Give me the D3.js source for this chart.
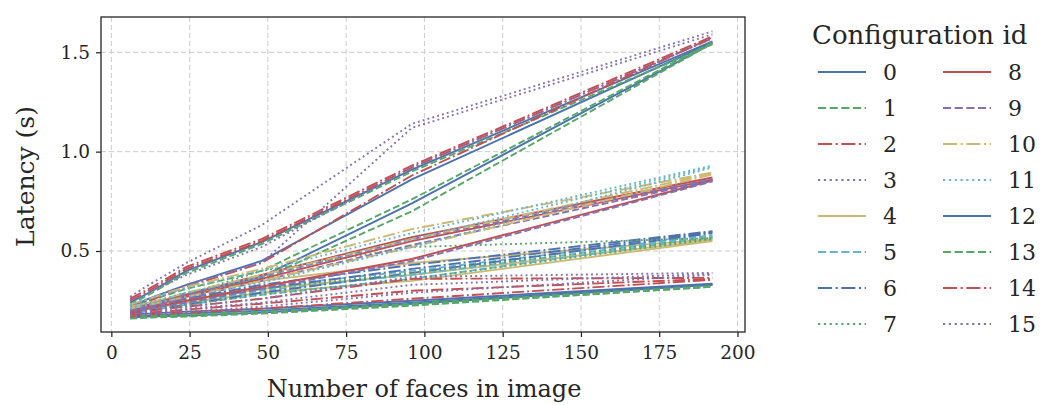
<!DOCTYPE html>
<html>
<head>
<meta charset="utf-8">
<script src="https://cdn.jsdelivr.net/npm/d3@7"></script>
<style>
  body { margin: 0; background: #fff; }
  text { font-family: "DejaVu Serif", serif; fill: #262626; }
</style>
</head>
<body>
<div id="chart"></div>
<script>
// Set up our chart size
var svgWidth = 1045;
var svgHeight = 405;

var margin = { top: 17, right: 300, bottom: 73, left: 101 };
var width = 745 - margin.left;
var height = 332 - margin.top;

// x values (number of faces)
var faces = [6, 12, 24, 48, 96, 192];

// latency (s) per run, three runs per configuration id
var cfg0 = [[0.24, 0.29, 0.40, 0.545, 0.91, 1.555], [0.20, 0.23, 0.28, 0.37, 0.74, 1.545], [0.22, 0.26, 0.33, 0.45, 0.86, 1.55]];
var cfg1 = [[0.23, 0.28, 0.39, 0.535, 0.90, 1.54], [0.21, 0.235, 0.29, 0.36, 0.70, 1.545], [0.22, 0.25, 0.31, 0.40, 0.76, 1.55]];
var cfg2 = [[0.26, 0.31, 0.42, 0.56, 0.93, 1.58], [0.22, 0.25, 0.32, 0.44, 0.88, 1.575], [0.25, 0.30, 0.41, 0.55, 0.92, 1.57]];
var cfg3 = [[0.27, 0.33, 0.44, 0.63, 1.14, 1.605], [0.22, 0.26, 0.33, 0.44, 1.12, 1.59], [0.25, 0.29, 0.38, 0.52, 0.92, 1.57]];
var cfg4 = [[0.19, 0.21, 0.24, 0.29, 0.35, 0.55], [0.20, 0.22, 0.25, 0.31, 0.38, 0.555], [0.21, 0.24, 0.28, 0.35, 0.44, 0.56]];
var cfg5 = [[0.19, 0.21, 0.24, 0.30, 0.38, 0.575], [0.20, 0.22, 0.26, 0.32, 0.40, 0.58], [0.18, 0.20, 0.23, 0.28, 0.36, 0.57]];
var cfg6 = [[0.20, 0.22, 0.26, 0.33, 0.43, 0.60], [0.19, 0.21, 0.25, 0.31, 0.41, 0.595], [0.18, 0.20, 0.23, 0.29, 0.39, 0.59]];
var cfg7 = [[0.20, 0.23, 0.28, 0.40, 0.52, 0.565], [0.18, 0.20, 0.23, 0.28, 0.36, 0.56], [0.19, 0.21, 0.25, 0.31, 0.39, 0.565]];
var cfg8 = [[0.20, 0.22, 0.27, 0.36, 0.55, 0.86], [0.19, 0.21, 0.25, 0.32, 0.46, 0.855], [0.21, 0.23, 0.28, 0.38, 0.57, 0.87]];
var cfg9 = [[0.20, 0.22, 0.26, 0.35, 0.53, 0.855], [0.19, 0.21, 0.24, 0.31, 0.45, 0.85], [0.21, 0.23, 0.28, 0.37, 0.56, 0.86]];
var cfg10 = [[0.23, 0.26, 0.32, 0.41, 0.61, 0.895], [0.22, 0.24, 0.29, 0.38, 0.56, 0.89], [0.21, 0.23, 0.27, 0.35, 0.52, 0.885]];
var cfg11 = [[0.23, 0.26, 0.31, 0.40, 0.59, 0.93], [0.22, 0.24, 0.29, 0.37, 0.56, 0.925], [0.21, 0.23, 0.27, 0.34, 0.52, 0.92]];
var cfg12 = [[0.165, 0.17, 0.175, 0.19, 0.235, 0.33], [0.18, 0.185, 0.195, 0.21, 0.25, 0.335], [0.17, 0.175, 0.185, 0.20, 0.24, 0.33]];
var cfg13 = [[0.16, 0.165, 0.17, 0.185, 0.225, 0.32], [0.17, 0.175, 0.18, 0.195, 0.235, 0.325], [0.165, 0.17, 0.18, 0.19, 0.23, 0.32]];
var cfg14 = [[0.19, 0.20, 0.22, 0.26, 0.36, 0.365], [0.18, 0.19, 0.205, 0.235, 0.30, 0.36], [0.17, 0.18, 0.19, 0.21, 0.26, 0.355]];
var cfg15 = [[0.19, 0.20, 0.22, 0.26, 0.37, 0.39], [0.18, 0.19, 0.21, 0.24, 0.33, 0.385], [0.17, 0.18, 0.195, 0.22, 0.29, 0.38]];

var configRuns = [cfg0, cfg1, cfg2, cfg3, cfg4, cfg5, cfg6, cfg7,
                  cfg8, cfg9, cfg10, cfg11, cfg12, cfg13, cfg14, cfg15];
var configIds = d3.range(16);

var xTicks = [0, 25, 50, 75, 100, 125, 150, 175, 200];
var yTicks = [0.5, 1.0, 1.5];

// seaborn deep colours + matplotlib line style cycle
var palette = ["#4C72B0", "#55A868", "#C44E52", "#8172B2", "#CCB974", "#64B5CD"];
function dashFor(i, lw) {
  var k = i % 4;
  if (k === 1) return [3.7 * lw, 1.6 * lw].join(",");
  if (k === 2) return [6.4 * lw, 1.6 * lw, 1 * lw, 1.6 * lw].join(",");
  if (k === 3) return [1 * lw, 1.65 * lw].join(",");
  return null;
}

// Create an SVG wrapper
var svg = d3.select("#chart")
  .append("svg")
  .attr("width", svgWidth)
  .attr("height", svgHeight);

var chart = svg.append("g")
  .attr("transform", `translate(${margin.left}, ${margin.top})`);

// scales
var xScale = d3.scaleLinear().domain([-3.3, 202.4]).range([0, width]);
var yScale = d3.scaleLinear().domain([0.0925, 1.6775]).range([height, 0]);

// grid
chart.append("g").selectAll("line")
  .data(xTicks).enter().append("line")
  .attr("x1", d => xScale(d)).attr("x2", d => xScale(d))
  .attr("y1", 0).attr("y2", height)
  .attr("stroke", "#cccccc").attr("stroke-dasharray", "5,3");
chart.append("g").selectAll("line")
  .data(yTicks).enter().append("line")
  .attr("x1", 0).attr("x2", width)
  .attr("y1", d => yScale(d)).attr("y2", d => yScale(d))
  .attr("stroke", "#cccccc").attr("stroke-dasharray", "5,3");

// lines
var line = d3.line()
  .x((d, i) => xScale(faces[i]))
  .y(d => yScale(d));

configIds.forEach(function(c) {
  configRuns[c].forEach(function(run) {
    chart.append("path")
      .attr("d", line(run))
      .attr("fill", "none")
      .attr("stroke", palette[c % 6])
      .attr("stroke-width", 1.9)
      .attr("stroke-dasharray", dashFor(c, 1.9));
  });
});

// axes
var bottomAxis = d3.axisBottom(xScale).tickValues(xTicks).tickSize(5).tickPadding(9).tickFormat(d3.format("d"));
var leftAxis = d3.axisLeft(yScale).tickValues(yTicks).tickSize(5).tickPadding(6).tickFormat(d3.format(".1f"));

var xAxisG = chart.append("g")
  .attr("transform", `translate(0, ${height})`)
  .call(bottomAxis);
var yAxisG = chart.append("g").call(leftAxis);

[xAxisG, yAxisG].forEach(function(g) {
  g.select(".domain").remove();
  g.selectAll("line").attr("stroke", "#262626").attr("stroke-width", 1.25);
  g.selectAll("text").style("font-size", "18.5px").attr("fill", "#262626")
    .style("font-family", "DejaVu Serif");
});

// frame
chart.append("rect")
  .attr("width", width).attr("height", height)
  .attr("fill", "none").attr("stroke", "#262626").attr("stroke-width", 1.3);

// axis labels
chart.append("text")
  .attr("transform", "rotate(-90)")
  .attr("x", -(height / 2) - 2)
  .attr("y", -67)
  .attr("text-anchor", "middle")
  .style("font-size", "25px")
  .text("Latency (s)");

chart.append("text")
  .attr("x", width / 2 + 1)
  .attr("y", height + 65)
  .attr("text-anchor", "middle")
  .style("font-size", "24px")
  .text("Number of faces in image");

// legend
var legend = svg.append("g");
legend.append("text")
  .attr("x", 812).attr("y", 44)
  .style("font-size", "26px")
  .text("Configuration id");

var items = legend.selectAll("g.item")
  .data(configIds).enter().append("g")
  .attr("transform", d => `translate(${d < 8 ? 818 : 943}, ${72 + (d % 8) * 36})`);

items.append("line")
  .attr("x1", 0).attr("x2", 48)
  .attr("stroke", d => palette[d % 6])
  .attr("stroke-width", 2.2)
  .attr("stroke-dasharray", d => dashFor(d, 2.2));

items.append("text")
  .attr("x", 65).attr("y", 8)
  .style("font-size", "22px")
  .text(d => d);
</script>
</body>
</html>
